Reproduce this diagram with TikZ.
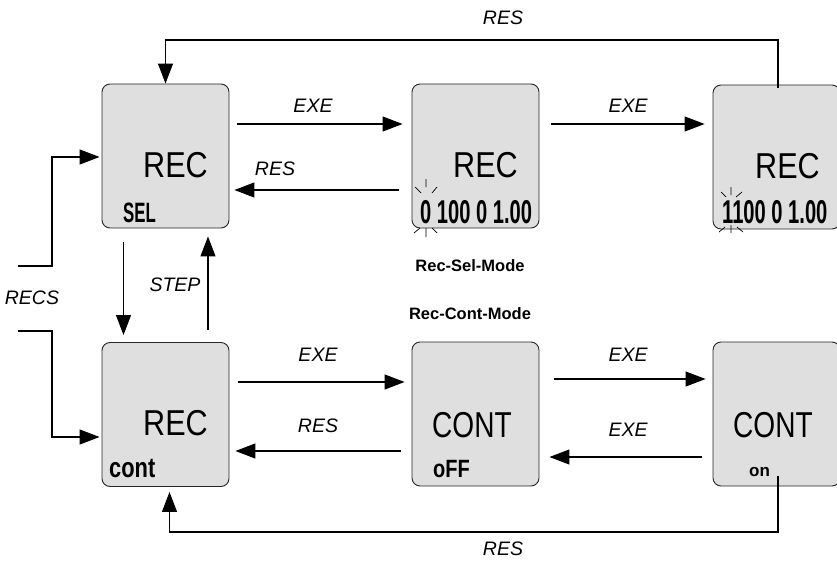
\documentclass[tikz,border=0pt]{standalone}
\usepackage{fontspec}
\setmainfont{Liberation Sans}
\usetikzlibrary{arrows.meta}
\definecolor{lcdfill}{HTML}{DFDFDF}
\begin{document}
\begin{tikzpicture}[x=1pt,y=-1pt,
  lcdbox/.style={draw=black!85, fill=lcdfill, rounded corners=8pt, minimum width=127pt, minimum height=144pt, line width=0.9pt, inner sep=0pt},
  conn/.style={line width=1.1pt, -{Triangle[length=20pt,width=15pt]}},
  lbl/.style={font=\fontsize{19.5}{22}\selectfont\itshape, inner sep=0pt},
  mode/.style={font=\fontsize{16.5}{19}\selectfont\bfseries, inner sep=0pt},
  bigtxt/.style={font=\fontsize{36}{40}\selectfont, inner sep=0pt, anchor=base west},
  smalltxt/.style={font=\fontsize{28}{30}\selectfont\bfseries, inner sep=0pt, anchor=base west},
  digtxt/.style={font=\fontsize{33}{36}\selectfont\bfseries, inner sep=0pt, anchor=base west},
  glare/.style={line width=0.7pt}]
\useasboundingbox (0,0) rectangle (837,567);
% boxes
\node[lcdbox] (b1) at (165.5,156) {};
\node[lcdbox] (b2) at (475.5,156) {};
\node[lcdbox] (b3) at (776.5,157) {};
\node[lcdbox] (b4) at (165.5,414.5) {};
\node[lcdbox] (b5) at (475.5,414) {};
\node[lcdbox] (b6) at (776.5,414) {};
% display texts
\node[bigtxt] (t1) at (143,177) {\scalebox{0.85}[1]{REC}};
\node[smalltxt] (s1) at (123,222) {\scalebox{0.6}[1]{SEL}};
\node[bigtxt] (t2) at (453,177) {\scalebox{0.85}[1]{REC}};
\node[digtxt] (d2) at (420,223) {\scalebox{0.61}[1]{0 100 0 1.00}};
\node[bigtxt] (t3) at (755,178) {\scalebox{0.85}[1]{REC}};
\node[digtxt] (d3) at (722,223) {\scalebox{0.61}[1]{1100 0 1.00}};
\node[bigtxt] (t4) at (143,435) {\scalebox{0.85}[1]{REC}};
\node[smalltxt] (s4) at (109,477) {\scalebox{0.78}[1]{cont}};
\node[bigtxt] (t5) at (432,437) {\scalebox{0.78}[1]{CONT}};
\node[smalltxt,font=\fontsize{25}{28}\selectfont\bfseries] (s5) at (433,477) {\scalebox{0.8}[1]{oFF}};
\node[bigtxt] (t6) at (733,437) {\scalebox{0.78}[1]{CONT}};
\node[smalltxt,font=\fontsize{17}{20}\selectfont\bfseries] (s6) at (749,476) {on};
% glare marks
\draw[glare] (426,179) -- (426,187) (415,187) -- (421,193) (437,187) -- (432,193)
  (426,228) -- (426,237) (414,233) -- (420,228) (432,228) -- (437,233);
\draw[glare] (731,187) -- (731,195) (721,192) -- (726,197) (742,192) -- (736,197)
  (731,225) -- (731,233) (719,232) -- (725,227) (737,227) -- (743,232);
% level coordinates
\coordinate (yA) at (0,124);
\coordinate (yB) at (0,190);
\coordinate (yC) at (0,382);
\coordinate (yD) at (0,451);
\coordinate (yE) at (0,379);
\coordinate (yF) at (0,457);
\coordinate (topY) at (0,40);
\coordinate (botY) at (0,532);
% top row
\draw[conn, shorten <=8pt, shorten >=9pt] (b1.east |- yA) -- (b2.west |- yA);
\draw[conn, shorten <=13pt, shorten >=5pt] (b2.west |- yB) -- (b1.east |- yB);
\draw[conn, shorten <=12pt, shorten >=8pt] (b2.east |- yA) -- (b3.west |- yA);
\node[lbl] (lA) at (313,106) {EXE};
\node[lbl] (lB) at (275,169) {RES};
\node[lbl] (lC) at (628,106) {EXE};
% bottom row
\draw[conn, shorten <=9pt, shorten >=7pt] (b4.east |- yC) -- (b5.west |- yC);
\draw[conn, shorten <=11pt, shorten >=6pt] (b5.west |- yD) -- (b4.east |- yD);
\draw[conn, shorten <=15pt, shorten >=7pt] (b5.east |- yE) -- (b6.west |- yE);
\draw[conn, shorten <=11pt, shorten >=10pt] (b6.west |- yF) -- (b5.east |- yF);
\node[lbl] (lD) at (318,355) {EXE};
\node[lbl] (lE) at (318,426) {RES};
\node[lbl] (lF) at (628,355) {EXE};
\node[lbl] (lG) at (628,430) {EXE};
% top loop
\coordinate (tl3) at ([xshift=1.5pt]b3.north);
\draw[conn] ([yshift=-3pt]tl3) -- (tl3 |- topY) -- (b1.north |- topY) -- (b1.north);
\node[lbl] (lH) at (503,18) {RES};
% bottom loop
\coordinate (bl6) at ([xshift=1.5pt]b6.south);
\coordinate (bl4) at ([xshift=4pt]b4.south);
\draw[conn, shorten >=5pt] ([yshift=10pt]bl6) -- (bl6 |- botY) -- (bl4 |- botY) -- (bl4);
\node[lbl] (lI) at (503,549) {RES};
% STEP arrows
\coordinate (sd) at ([xshift=-42pt]b1.south);
\coordinate (su) at ([xshift=42.5pt]b1.south);
\draw[conn, shorten <=14pt, shorten >=7pt] (sd) -- (sd |- b4.north);
\draw[conn, shorten <=12pt, shorten >=8pt] (su |- b4.north) -- (su);
\node[lbl] (lJ) at (175,285) {STEP};
% RECS
\coordinate (r1) at (18,266);
\coordinate (r2) at (18,331);
\coordinate (k1) at (52,266);
\coordinate (k2) at (52,331);
\coordinate (e1) at (0,157);
\coordinate (e2) at (0,437);
\draw[conn, shorten >=2pt] (r1) -- (k1) -- (k1 |- e1) -- (b1.west |- e1);
\draw[conn, shorten >=2pt] (r2) -- (k2) -- (k2 |- e2) -- (b4.west |- e2);
\node[lbl] (lK) at (32,298) {RECS};
% mode labels
\node[mode] (m1) at (470,266) {Rec-Sel-Mode};
\node[mode] (m2) at (470,314) {Rec-Cont-Mode};
\end{tikzpicture}
\end{document}
